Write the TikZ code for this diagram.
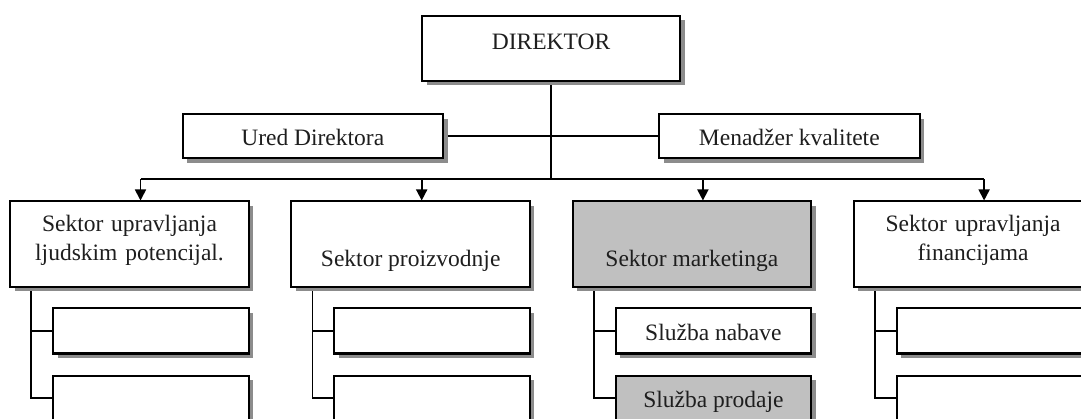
\documentclass[tikz,border=0pt]{standalone}
\usepackage{fontspec}
\setmainfont{Liberation Serif}
\usetikzlibrary{arrows.meta,shadows}
\definecolor{boxgray}{RGB}{192,192,192}
\definecolor{inkc}{RGB}{30,30,30}
\pgfdeclarelayer{bg}
\pgfsetlayers{bg,main}
\begin{document}
\begin{tikzpicture}[x=1pt,y=-1pt,
  base/.style={draw=black, line width=2pt, fill=white, inner sep=0pt, text=inkc,
    font=\fontsize{23.5}{28.5}\selectfont,
    drop shadow={shadow xshift=4.5pt, shadow yshift=-4.5pt, fill=black!45, opacity=1}},
  topbox/.style={base, minimum width=258pt, minimum height=65pt, text height=15pt, text depth=12pt},
  midbox/.style={base, minimum width=260.5pt, minimum height=44pt, text height=24pt, text depth=5.2pt},
  secone/.style={base, minimum width=238.5pt, minimum height=85.5pt, text height=50.5pt, text depth=5pt},
  sectwo/.style={base, minimum width=238.5pt, minimum height=85.5pt, text width=230pt, align=center, text height=16pt, text depth=40.5pt},
  subbox/.style={base, minimum width=195.5pt, minimum height=45pt, text height=24pt, text depth=5pt},
  shaded/.style={fill=boxgray},
  conn/.style={draw=black, line width=1.7pt},
  arr/.style={conn, -{Triangle[width=11pt,length=11pt]}}
]
\useasboundingbox (0,0) rectangle (1081,419);
\clip (0,0) rectangle (1081,419);
\begin{pgfonlayer}{bg}
\fill[white] (0,0) rectangle (1081,419);
\end{pgfonlayer}

% top level
\node[topbox] (dir) at (551,48.5) {DIREKTOR};
\node[midbox] (ured) at (312.75,136.3) {Ured Direktora};
\node[midbox] (men) at (789.3,136.3) {Menadžer kvalitete};

% sectors
\node[sectwo] (s1) at (129.5,244.25) {Sektor upravljanja\\ljudskim potencijal.};
\node[secone] (s2) at (410.7,244.25) {Sektor proizvodnje};
\node[secone, shaded] (s3) at (691.9,244.25) {Sektor marketinga};
\node[sectwo] (s4) at (973.1,244.25) {Sektor upravljanja\\financijama};

% sub boxes
\node[subbox] (s1a) at (151,331) {};
\node[subbox] (s1b) at (151,398) {};
\node[subbox] (s2a) at (432.2,331) {};
\node[subbox] (s2b) at (432.2,398) {};
\node[subbox] (s3a) at (713.4,331) {Služba nabave};
\node[subbox, shaded] (s3b) at (713.4,398) {Služba prodaje};
\node[subbox] (s4a) at (994.6,331) {};
\node[subbox] (s4b) at (994.6,398) {};

\coordinate (busy) at (0,179.3);
\foreach \i in {1,2,3,4}{
  \coordinate (a\i) at ([xshift=11pt]s\i.north);
  \coordinate (v\i) at ([xshift=22pt]s\i.south west);
}

\begin{pgfonlayer}{bg}
\draw[conn] (dir.south) -- (dir.south |- busy);
\draw[conn] (ured.east) -- (men.west);
\draw[conn] (a1 |- busy) -- (a4 |- busy);
\foreach \i in {1,2,3,4}{
  \draw[arr] (a\i |- busy) -- (a\i);
  \draw[conn] (v\i) |- (s\i b.west);
  \draw[conn] (v\i |- s\i a.west) -- (s\i a.west);
}
\end{pgfonlayer}
\end{tikzpicture}
\end{document}
